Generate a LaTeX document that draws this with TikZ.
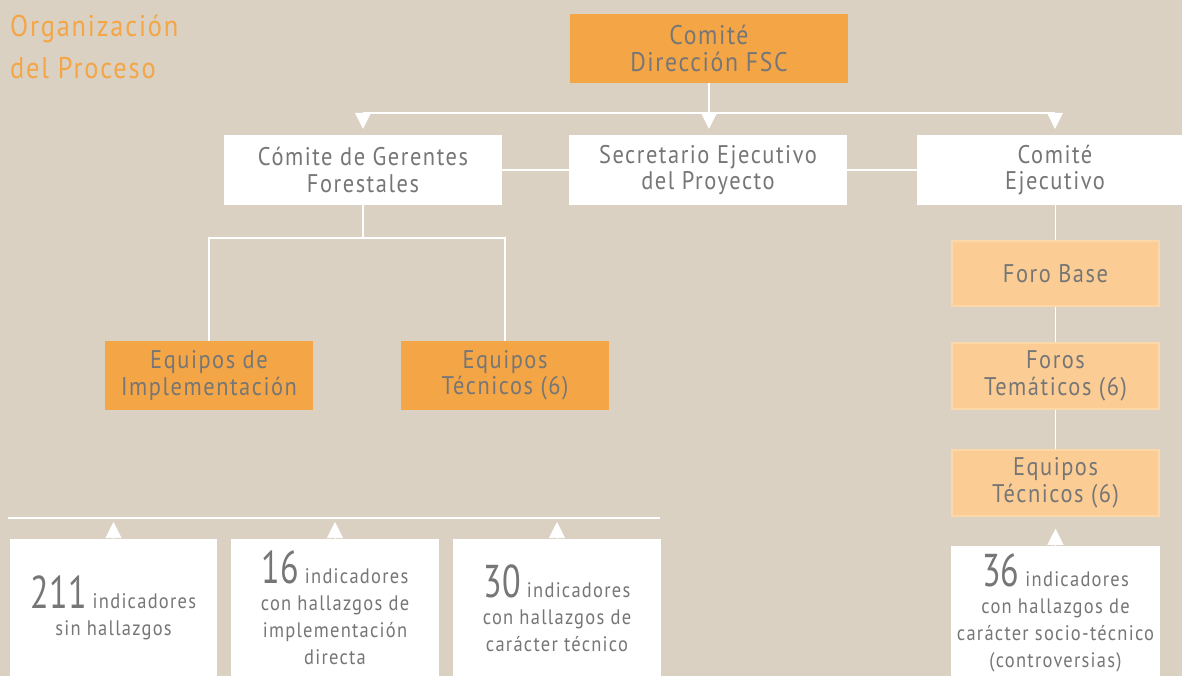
\documentclass[tikz,border=0pt]{standalone}
\usepackage{fontspec}
\setmainfont{PT Sans}[LetterSpace=6,FakeStretch=0.88]
\newfontfamily\numfont{PT Sans}[FakeStretch=0.74]
\usetikzlibrary{arrows.meta}
\definecolor{bg}{HTML}{DAD1C3}
\definecolor{orangeA}{HTML}{F4A646}
\definecolor{orangeB}{HTML}{FBCD95}
\definecolor{orangeBline}{HTML}{FCD8A8}
\definecolor{txt}{HTML}{767676}
\newcommand{\bignum}[1]{{\numfont\fontsize{46}{46}\selectfont #1}}
\begin{document}
\begin{tikzpicture}[x=1pt,y=-1pt,
  box/.style={inner sep=0pt, align=center, text=txt, font=\fontsize{25.5}{26.5}\selectfont},
  wbox/.style={box, fill=white},
  obox/.style={box, fill=orangeA},
  lbox/.style={box, fill=orangeB, draw=orangeBline, line width=1.5pt},
  ibox/.style={box, fill=white, font=\fontsize{21}{27}\selectfont},
  conn/.style={draw=white, line width=1.5pt},
  tri/.style={draw=white, line width=0.6pt, -{Triangle[width=16pt,length=16pt]}},
  ttl/.style={anchor=base west, inner sep=0pt, text=orangeA, font=\fontsize{30}{42}\selectfont}
]
\fill[bg] (0,0) rectangle (1182,676);
\useasboundingbox (0,0) rectangle (1182,676);

% title
\node[ttl] (t1) at (10,37) {Organización};
\node[ttl] (t2) at (10,79) {del Proceso};

% nodes
\node[obox, minimum width=278pt, minimum height=69pt, font=\fontsize{27}{26.5}\selectfont] (top) at (709,48.5) {Comité\\Dirección FSC};
\node[wbox, minimum width=278pt, minimum height=70pt] (ger) at (363,170) {Cómite de Gerentes\\Forestales};
\node[wbox, minimum width=278pt, minimum height=70pt] (sec) at (708,170) {Secretario Ejecutivo\\del Proyecto};
\node[wbox, minimum width=276pt, minimum height=70pt] (eje) at (1055,170) {Comité\\Ejecutivo};
\node[obox, minimum width=208pt, minimum height=69pt] (impl) at (209,375.5) {Equipos de\\Implementación};
\node[obox, minimum width=208pt, minimum height=69pt] (tec) at (505,375.5) {Equipos\\Técnicos (6)};
\node[lbox, minimum width=207pt, minimum height=65pt] (fb) at (1055.5,273.5) {Foro Base};
\node[lbox, minimum width=207pt, minimum height=66pt] (ft) at (1055.5,376) {Foros\\Temáticos (6)};
\node[lbox, minimum width=207pt, minimum height=66pt] (et) at (1055.5,483) {Equipos\\Técnicos (6)};

\node[ibox, minimum width=207pt, minimum height=138pt] (b1) at (113.5,608) {\bignum{211} indicadores\\sin hallazgos};
\node[ibox, minimum width=208pt, minimum height=138pt] (b2) at (335,608) {\bignum{16} indicadores\\con hallazgos de\\implementación\\directa};
\node[ibox, minimum width=208pt, minimum height=138pt] (b3) at (557,608) {\bignum{30} indicadores\\con hallazgos de\\carácter técnico};
\node[ibox, minimum width=209pt, minimum height=134pt] (b4) at (1055.5,613) {\bignum{36} indicadores\\con hallazgos de\\carácter socio-técnico\\(controversias)};

% coordinates
\coordinate (bus) at (0,113);
\coordinate (split) at (0,238);
\coordinate (bl) at (8,518);
\coordinate (br) at (660,518);

% connectors
\draw[conn] (top.south) -- (top.south |- bus);
\draw[conn] (ger.north |- bus) -- (eje.north |- bus);
\draw[tri, shorten >=6pt] (ger.north |- bus) -- (ger.north);
\draw[tri, shorten >=6pt] (top.south |- bus) -- (sec.north -| top.south);
\draw[tri, shorten >=6pt] (eje.north |- bus) -- (eje.north);
\draw[conn] (ger.east) -- (sec.west);
\draw[conn] (sec.east) -- (eje.west);
\draw[conn] (ger.south) -- (ger.south |- split);
\draw[conn] (impl.north) |- (ger.south |- split) -| (tec.north);
\draw[conn] (eje.south -| fb.north) -- (fb.north);
\draw[conn] (fb.south) -- (ft.north);
\draw[conn] (ft.south) -- (et.north);

\draw[conn] (bl) -- (br);
\draw[tri, shorten >=4pt] (b1.north) -- (b1.north |- bl);
\draw[tri, shorten >=4pt] (b2.north) -- (b2.north |- bl);
\draw[tri, shorten >=4pt] (b3.north) -- (b3.north |- bl);
\draw[tri, shorten >=12pt] (b4.north) -- (et.south);
\end{tikzpicture}
\end{document}
